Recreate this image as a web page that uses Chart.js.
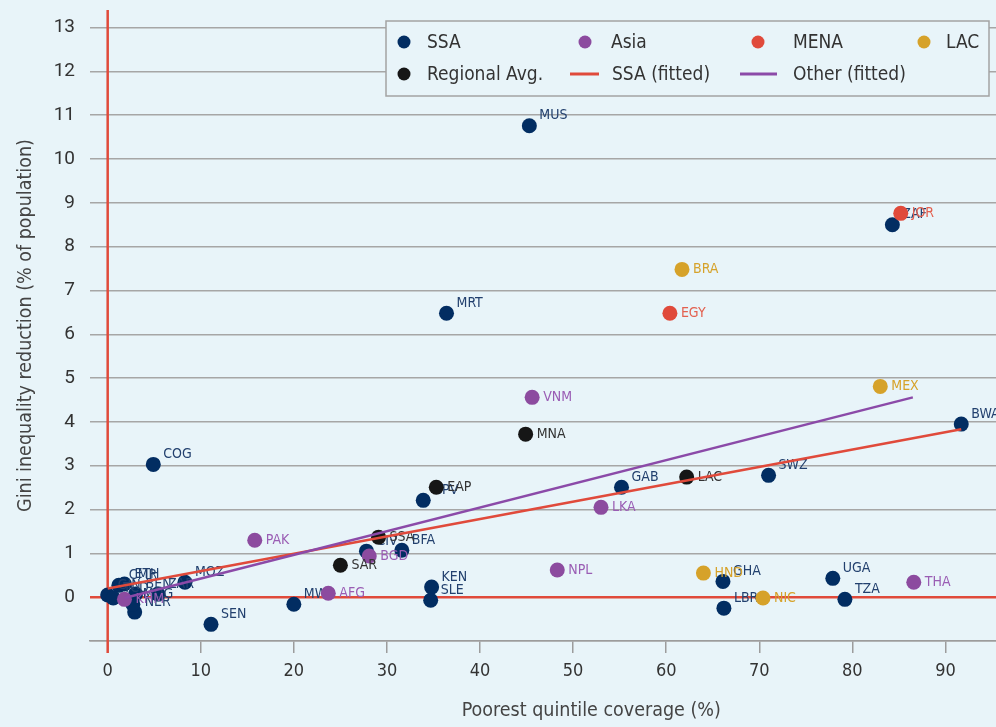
<!DOCTYPE html>
<html>
<head>
<meta charset="utf-8">
<script src="https://cdn.jsdelivr.net/npm/chart.js@4/dist/chart.umd.min.js"></script>
<style>
  html, body { margin: 0; padding: 0; overflow: hidden; background: rgb(232,244,249); }
  #wrap { width: 1100px; height: 727px; }
</style>
</head>
<body>
<div id="wrap"><canvas id="c" width="1100" height="727"></canvas></div>
<script>
// Sub-Saharan Africa
const ssaNames = ['MUS','ZAF','MRT','BWA','COG','SWZ','GAB','CPV','BFA','CIV','KEN','SLE','MWI','SEN','MOZ','UGA','GHA','LBR','TZA','NER','CMR','GIN','TCD','ETH','BEN','ZAR','MDG'];
const ssaX = [45.3, 84.3, 36.4, 91.7, 4.9, 71.0, 55.2, 33.9, 31.6, 27.8, 34.8, 34.7, 20.0, 11.1, 8.3, 77.9, 66.1, 66.2, 79.2, 2.9, 1.2, 0.0, 0.6, 1.8, 3.0, 5.4, 2.7];
const ssaY = [10.76, 8.50, 6.48, 3.95, 3.03, 2.78, 2.51, 2.21, 1.07, 1.05, 0.23, -0.07, -0.16, -0.62, 0.34, 0.43, 0.36, -0.25, -0.05, -0.34, 0.27, 0.05, -0.02, 0.30, 0.07, 0.07, -0.16];

// Asia
const asiaNames = ['VNM','PAK','LKA','BGD','NPL','AFG','THA','KHM'];
const asiaX = [45.6, 15.8, 53.0, 28.1, 48.3, 23.7, 86.6, 1.8];
const asiaY = [4.56, 1.30, 2.05, 0.94, 0.62, 0.09, 0.34, -0.05];

// Middle East and North Africa
const menaNames = ['JOR','EGY'];
const menaX = [85.2, 60.4];
const menaY = [8.76, 6.48];

// Latin America and the Caribbean
const lacNames = ['BRA','MEX','HND','NIC'];
const lacX = [61.7, 83.0, 64.0, 70.4];
const lacY = [7.48, 4.81, 0.55, -0.02];

// Regional averages
const regNames = ['MNA','EAP','LAC','SSA','SAR'];
const regX = [44.9, 35.3, 62.2, 29.1, 25.0];
const regY = [3.72, 2.51, 2.74, 1.37, 0.73];

// Fitted lines (end points)
const ssaFitX = [0, 91.7];
const ssaFitY = [0.20, 3.83];
const otherFitX = [1.8, 86.5];
const otherFitY = [-0.02, 4.56];

const xTicks = [0, 10, 20, 30, 40, 50, 60, 70, 80, 90];
const yTicks = [0, 1, 2, 3, 4, 5, 6, 7, 8, 9, 10, 11, 12, 13];

const NARROW = '"Liberation Sans Narrow", "DejaVu Sans Condensed", sans-serif';
const BG = 'rgb(232,244,249)';
const C = {
  ssa: '#022d62', asia: '#8c4b9f', mena: '#e04a3b', lac: '#d6a22a', reg: '#161616',
  ssaFit: '#e04a3b', otherFit: '#8b4aa8'
};

const pts = (xs, ys) => xs.map((x, i) => ({ x: x, y: ys[i] }));

function pointSet(label, xs, ys, names, color, labelColor, dx, dy, order) {
  return {
    type: 'scatter', label, data: pts(xs, ys), names,
    backgroundColor: color, borderColor: color, pointRadius: 7.5, pointBorderWidth: 0,
    pointHoverRadius: 7.5, labelColor, labelDx: dx, labelDy: dy, order
  };
}
function lineSet(label, xs, ys, color, order) {
  return {
    type: 'scatter', label, data: pts(xs, ys), showLine: true,
    borderColor: color, backgroundColor: color, borderWidth: 2.5,
    pointRadius: 0, pointHoverRadius: 0, order
  };
}

// Red reference lines at x = 0 and y = 0
const zeroLines = {
  id: 'zeroLines',
  beforeDatasetsDraw(chart) {
    const { ctx, chartArea: a, scales: { x, y } } = chart;
    const x0 = x.getPixelForValue(0), y0 = y.getPixelForValue(0);
    ctx.save();
    ctx.strokeStyle = '#e04a3b';
    ctx.lineWidth = 2.5;
    ctx.beginPath();
    ctx.moveTo(a.left, y0); ctx.lineTo(a.right, y0);
    ctx.moveTo(x0, a.top); ctx.lineTo(x0, a.bottom + 12);
    ctx.stroke();
    ctx.restore();
  }
};

// Country codes next to each marker, drawn right after its own series
const pointLabels = {
  id: 'pointLabels',
  afterDatasetDraw(chart, args) {
    const ds = chart.data.datasets[args.index];
    if (!ds.names) return;
    const ctx = chart.ctx;
    ctx.save();
    ctx.font = '14px ' + NARROW;
    ctx.fillStyle = ds.labelColor;
    ctx.textAlign = 'left';
    ctx.textBaseline = 'middle';
    args.meta.data.forEach((el, i) => {
      ctx.fillText(ds.names[i], el.x + ds.labelDx, el.y + ds.labelDy);
    });
    ctx.restore();
  }
};

// Boxed legend in a four-column grid
const boxLegend = {
  id: 'boxLegend',
  afterDraw(chart) {
    const ctx = chart.ctx;
    const box = { l: 386, t: 21, r: 989, b: 96 };
    ctx.save();
    ctx.fillStyle = BG;
    ctx.fillRect(box.l, box.t, box.r - box.l, box.b - box.t);
    ctx.strokeStyle = '#a3a3a3';
    ctx.lineWidth = 1.5;
    ctx.strokeRect(box.l, box.t, box.r - box.l, box.b - box.t);
    const items = [
      { kind: 'dot', color: C.ssa, text: 'SSA', mx: 404, tx: 427, y: 42 },
      { kind: 'dot', color: C.asia, text: 'Asia', mx: 585, tx: 611, y: 42 },
      { kind: 'dot', color: C.mena, text: 'MENA', mx: 758, tx: 793, y: 42 },
      { kind: 'dot', color: C.lac, text: 'LAC', mx: 924, tx: 946, y: 42 },
      { kind: 'dot', color: C.reg, text: 'Regional Avg.', mx: 404, tx: 427, y: 74 },
      { kind: 'line', color: C.ssaFit, text: 'SSA (fitted)', mx: 570, mw: 29, tx: 612, y: 74 },
      { kind: 'line', color: C.otherFit, text: 'Other (fitted)', mx: 740, mw: 37, tx: 793, y: 74 }
    ];
    ctx.font = '19px ' + NARROW;
    ctx.textBaseline = 'middle';
    ctx.textAlign = 'left';
    items.forEach(it => {
      if (it.kind === 'dot') {
        ctx.fillStyle = it.color;
        ctx.beginPath(); ctx.arc(it.mx, it.y, 6.5, 0, Math.PI * 2); ctx.fill();
      } else {
        ctx.strokeStyle = it.color; ctx.lineWidth = 3;
        ctx.beginPath(); ctx.moveTo(it.mx, it.y); ctx.lineTo(it.mx + it.mw, it.y); ctx.stroke();
      }
      ctx.fillStyle = '#333';
      ctx.fillText(it.text, it.tx, it.y + 1);
    });
    ctx.restore();
  }
};

new Chart(document.getElementById('c'), {
  type: 'scatter',
  data: {
    datasets: [
      pointSet('SSA', ssaX, ssaY, ssaNames, C.ssa, '#22406e', 10, -10, 7),
      pointSet('Asia', asiaX, asiaY, asiaNames, C.asia, '#9a5db4', 11, 0, 6),
      pointSet('MENA', menaX, menaY, menaNames, C.mena, '#e3604f', 11, 0, 5),
      pointSet('LAC', lacX, lacY, lacNames, C.lac, '#d6a22a', 11, 0, 4),
      pointSet('Regional Avg.', regX, regY, regNames, C.reg, '#333333', 11, 0, 3),
      lineSet('SSA (fitted)', ssaFitX, ssaFitY, C.ssaFit, 1),
      lineSet('Other (fitted)', otherFitX, otherFitY, C.otherFit, 0)
    ]
  },
  options: {
    responsive: false,
    animation: false,
    layout: { padding: { left: 10, top: 10, right: 0, bottom: 0 } },
    plugins: { legend: { display: false }, tooltip: { enabled: false } },
    scales: {
      x: {
        type: 'linear', min: -1.9, max: 105.8,
        afterFit(s) { s.height = 86; s.paddingLeft = 0; s.paddingRight = 0; },
        afterBuildTicks(s) { s.ticks = xTicks.map(v => ({ value: v })); },
        grid: { drawOnChartArea: false, drawTicks: true, tickLength: 12, color: '#9c9c9c', lineWidth: 1.5 },
        border: { display: true, color: '#9c9c9c', width: 1.5 },
        ticks: { padding: 8, color: '#333', font: { family: NARROW, size: 18 } },
        title: {
          display: true, text: 'Poorest quintile coverage (%)', color: '#444',
          font: { family: NARROW, size: 19.5 }, padding: { top: 0, bottom: 4 }
        }
      },
      y: {
        type: 'linear', min: -1, max: 13.4,
        afterFit(s) { s.width = 80; s.paddingTop = 0; s.paddingBottom = 0; },
        afterBuildTicks(s) { s.ticks = [-1].concat(yTicks).map(v => ({ value: v })); },
        grid: { drawTicks: false, color: '#a6a6a6', lineWidth: 1.5 },
        border: { display: false },
        ticks: {
          padding: 15, color: '#333', font: { family: 'Roboto, sans-serif', size: 19 },
          callback: v => (v < 0 ? '' : String(v))
        },
        title: {
          display: true, text: 'Gini inequality reduction (% of population)', color: '#444',
          font: { family: NARROW, size: 19.5 }, padding: { top: 4, bottom: 0 }
        }
      }
    }
  },
  plugins: [zeroLines, pointLabels, boxLegend]
});
</script>
</body>
</html>
